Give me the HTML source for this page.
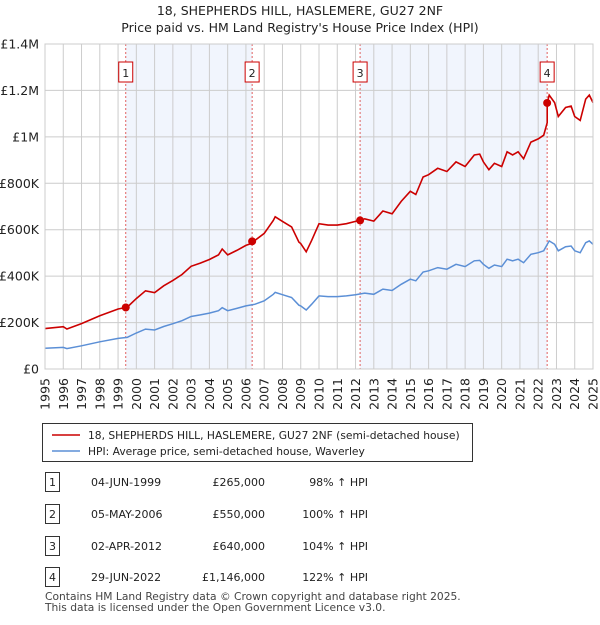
<!DOCTYPE html>
<html><head><meta charset="utf-8"><style>
body{margin:0;background:#fff;font-family:"Liberation Sans","DejaVu Sans",sans-serif;}
svg text{font-family:"DejaVu Sans","Liberation Sans",sans-serif;}
</style></head><body>
<svg id="c" width="600" height="620" xmlns="http://www.w3.org/2000/svg"></svg>
<script>
const hpiYears=[1995,1996,1996.2,1997,1998,1999,1999.5,2000,2000.5,2001,2001.5,2002,2002.5,2003,2003.5,2004,2004.5,2004.7,2005,2005.5,2006,2006.5,2007,2007.5,2007.6,2008,2008.5,2008.9,2009,2009.3,2009.6,2010,2010.5,2011,2011.5,2012,2012.5,2013,2013.5,2014,2014.5,2015,2015.3,2015.7,2016,2016.5,2017,2017.5,2018,2018.5,2018.8,2019,2019.3,2019.6,2020,2020.3,2020.6,2020.9,2021.2,2021.6,2022,2022.3,2022.6,2022.9,2023.1,2023.5,2023.8,2024,2024.3,2024.6,2024.8,2025];
const hpiValues=[89,93,88,100,117,132,136,155,172,168,183,195,208,226,233,241,251,264,251,261,272,279,294,322,330,320,308,275,272,254,279,315,312,312,315,320,327,322,344,338,365,387,380,418,423,437,430,451,441,466,468,451,434,448,441,473,466,473,458,494,501,509,552,537,509,527,530,509,501,544,552,537];
const saleLabels=["1","2","3","4"];
const saleDates=["04-JUN-1999","05-MAY-2006","02-APR-2012","29-JUN-2022"];
const saleYears=[1999.42,2006.34,2012.25,2022.49];
const salePrices=[265000,550000,640000,1146000];
const salePriceText=["£265,000","£550,000","£640,000","£1,146,000"];
const salePct=["98% ↑ HPI","100% ↑ HPI","104% ↑ HPI","122% ↑ HPI"];
const yTicks=[0,200000,400000,600000,800000,1000000,1200000,1400000];
const yTickLabels=["£0","£200K","£400K","£600K","£800K","£1M","£1.2M","£1.4M"];

const X0=45,X1=593,Y0=369,Y1=44;
const sx=y=>X0+(y-1995)/30*(X1-X0);
const sy=v=>Y0-v/1400000*(Y0-Y1);
const NS="http://www.w3.org/2000/svg";
const svg=document.getElementById('c');
function el(t,a,p){const e=document.createElementNS(NS,t);for(const k in a)e.setAttribute(k,a[k]);(p||svg).appendChild(e);return e;}
function hpiAt(y){for(let i=0;i<hpiYears.length-1;i++){if(y<=hpiYears[i+1]){const f=(y-hpiYears[i])/(hpiYears[i+1]-hpiYears[i]);return (hpiValues[i]+f*(hpiValues[i+1]-hpiValues[i]))*1000;}}return hpiValues[hpiValues.length-1]*1000;}

let t=el('text',{x:300,y:15,'text-anchor':'middle','font-size':'12.5',fill:'#222'});t.textContent="18, SHEPHERDS HILL, HASLEMERE, GU27 2NF";

t=el('text',{x:300,y:32,'text-anchor':'middle','font-size':'12.5',fill:'#222'});t.textContent="Price paid vs. HM Land Registry's House Price Index (HPI)";


for(let i=0;i<saleYears.length;i+=2){
  const r=el('rect',{x:sx(saleYears[i]),y:Y1,width:sx(saleYears[i+1])-sx(saleYears[i]),height:Y0-Y1,fill:'#eef3fc',opacity:0.8});
  
}
for(let y=1995;y<=2025;y++){
  const l=el('line',{x1:sx(y),x2:sx(y),y1:Y1,y2:Y0,stroke:'#cccccc','stroke-width':1});
  
  const tx=el('text',{transform:`translate(${sx(y)+4.5},378) rotate(-90)`,'text-anchor':'end','font-size':'12.5',fill:'#222'});
  tx.textContent=y;
  
}
yTicks.forEach((v,i)=>{
  const l=el('line',{x1:X0,x2:X1,y1:sy(v),y2:sy(v),stroke:'#cccccc','stroke-width':1});
  
  const tx=el('text',{x:39,y:sy(v)+4.5,'text-anchor':'end','font-size':'12.5',fill:'#222'});
  tx.textContent=yTickLabels[i];
  
});
saleYears.forEach((y,i)=>{
  const l=el('line',{x1:sx(y),x2:sx(y),y1:Y1,y2:Y0,stroke:'#e06060','stroke-width':1,'stroke-dasharray':'2,2'});
  
  const g=el('g',{});
  
  el('rect',{x:sx(y)-7,y:62,width:14,height:20,fill:'#fff',stroke:'#cc0000'},g);
  const tx=el('text',{x:sx(y),y:77,'text-anchor':'middle','font-size':'11',fill:'#222'},g);tx.textContent=saleLabels[i];
});
let d='';hpiYears.forEach((y,i)=>{d+=(i?'L':'M')+sx(y).toFixed(1)+','+sy(hpiValues[i]*1000).toFixed(1);});
let p=el('path',{d:d,fill:'none',stroke:'#5b8fd6','stroke-width':1.5});

const ratios=saleYears.map((y,i)=>salePrices[i]/hpiAt(y));
function ratioFor(y){let k=0;for(let i=0;i<saleYears.length;i++)if(y>=saleYears[i])k=i;return ratios[k];}
const pts=[];
const ys=hpiYears.concat(saleYears).sort((a,b)=>a-b);
ys.forEach(y=>{
  const idx=saleYears.indexOf(y);
  if(idx>0){pts.push([y,hpiAt(y)*ratios[idx-1]]);}
  pts.push([y,hpiAt(y)*ratioFor(y)]);
});
d='';pts.forEach((q,i)=>{d+=(i?'L':'M')+sx(q[0]).toFixed(1)+','+sy(q[1]).toFixed(1);});
p=el('path',{d:d,fill:'none',stroke:'#cc0000','stroke-width':1.6});

saleYears.forEach((y,i)=>{
  const c=el('circle',{cx:sx(y),cy:sy(salePrices[i]),r:4,fill:'#cc0000'});
  
});
el('rect',{x:X0,y:Y1,width:X1-X0,height:Y0-Y1,fill:'none',stroke:'#ccc'});
const lg=el('g',{});
el('rect',{x:42.5,y:423.5,width:430,height:38,fill:'#fff',stroke:'#333'},lg);
el('line',{x1:52,x2:80,y1:435,y2:435,stroke:'#cc0000','stroke-width':1.5},lg);
el('line',{x1:52,x2:80,y1:451,y2:451,stroke:'#5b8fd6','stroke-width':1.5},lg);
t=el('text',{x:88,y:439,'font-size':'10.7',fill:'#222'},lg);t.textContent="18, SHEPHERDS HILL, HASLEMERE, GU27 2NF (semi-detached house)";
t=el('text',{x:88,y:455,'font-size':'10.7',fill:'#222'},lg);t.textContent="HPI: Average price, semi-detached house, Waverley";
const rowY=[482,514,546,577];
saleLabels.forEach((s,i)=>{
  const g=el('g',{});
  const y=rowY[i];
  el('rect',{x:45.5,y:y-9.5,width:14,height:19,fill:'#fff',stroke:'#333'},g);
  let tt=el('text',{x:52.5,y:y+4,'text-anchor':'middle','font-size':'11',fill:'#222'},g);tt.textContent=s;
  tt=el('text',{x:91,y:y+4,'font-size':'11',fill:'#222'},g);tt.textContent=saleDates[i];
  tt=el('text',{x:265,y:y+4,'text-anchor':'end','font-size':'11',fill:'#222'},g);tt.textContent=salePriceText[i];
  tt=el('text',{x:368,y:y+4,'text-anchor':'end','font-size':'11',fill:'#222'},g);tt.textContent=salePct[i];
});
t=el('text',{x:45,y:600,'font-size':'10.7',fill:'#444'});t.textContent="Contains HM Land Registry data © Crown copyright and database right 2025.";

t=el('text',{x:45,y:611,'font-size':'10.7',fill:'#444'});t.textContent="This data is licensed under the Open Government Licence v3.0.";

</script>
</body></html>
